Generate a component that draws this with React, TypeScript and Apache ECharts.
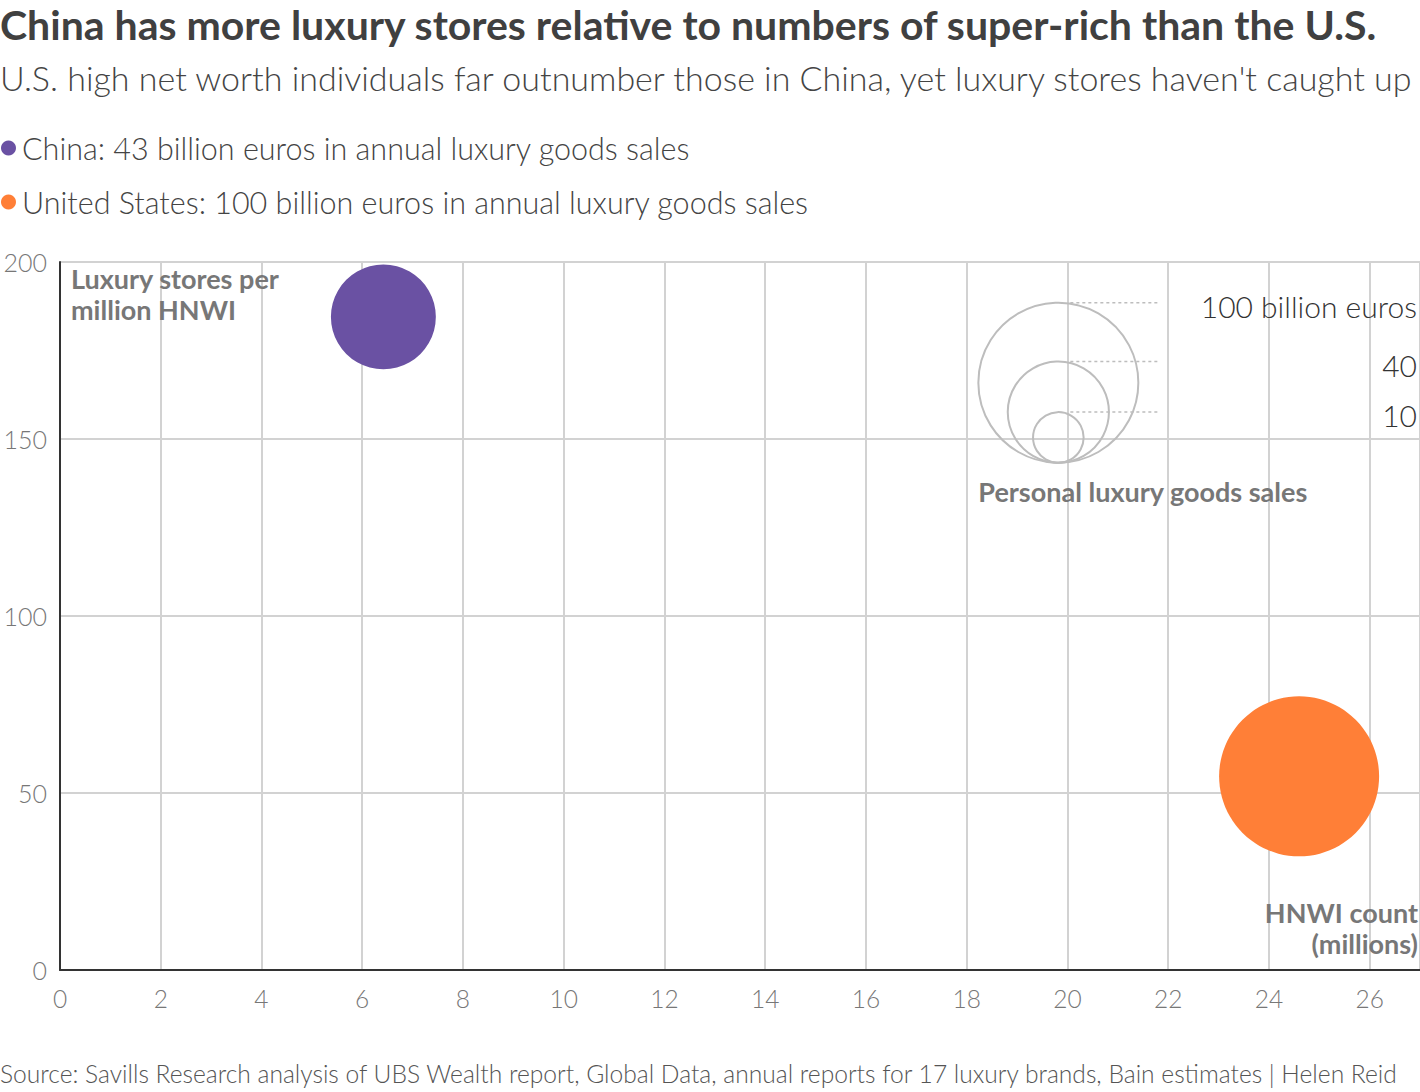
import React, { useEffect, useRef } from "react";
import * as echarts from "echarts";

// Bubble data: HNWI count (millions), luxury stores per million HNWI, annual sales (bn euros)
const countries = ["China", "United States"];
const hnwiMillions = [6.42, 24.6];
const storesPerMillionHnwi = [184.5, 54.7];
const salesBillionEuros = [43, 100];
const countryColors = ["#6a51a3", "#ff7f37"];

// Size key
const sizeKeyValues = [100, 40, 10];
const sizeKeyLabels = ["100 billion euros", "40", "10"];
const sizeKeyAnchor = [19.82, 143.3]; // bottom point of the nested circles, in data units

const xMin = 0;
const xMax = 27;
const xStep = 2;
const yMin = 0;
const yMax = 200;
const yStep = 50;

const FONT = "Lato, 'Noto Sans', sans-serif";
const bubbleDiameter = (v: number) => 16 * Math.sqrt(v);

export default function App() {
  const ref = useRef<HTMLDivElement>(null);

  useEffect(() => {
    if (!ref.current) return;
    const chart = echarts.init(ref.current, null, { renderer: "svg" });

    const countrySeries = countries.map((c, i) => ({
      type: "scatter",
      name: `${c}: ${salesBillionEuros[i]} billion euros in annual luxury goods sales`,
      data: [[hnwiMillions[i], storesPerMillionHnwi[i], salesBillionEuros[i]]],
      symbolSize: (d: number[]) => bubbleDiameter(d[2]),
      itemStyle: { color: countryColors[i], opacity: 1 },
      z: 5,
    }));

    const sizeKeySeries = {
      type: "scatter",
      name: "sizeKey",
      silent: true,
      data: sizeKeyValues.map((v) => ({
        value: [sizeKeyAnchor[0], sizeKeyAnchor[1], v],
        symbolOffset: [0, -bubbleDiameter(v) / 2],
      })),
      symbolSize: (d: number[]) => bubbleDiameter(d[2]),
      itemStyle: {
        color: "rgba(255,255,255,0)",
        borderColor: "#bdbdbd",
        borderWidth: 2,
        opacity: 1,
      },
      z: 4,
    };

    const option: any = {
      animation: false,
      backgroundColor: "#ffffff",
      textStyle: { fontFamily: FONT },
      legend: {
        data: countrySeries.map((s) => s.name),
        orient: "vertical",
        left: 1,
        top: 132,
        padding: 0,
        itemGap: 22,
        itemWidth: 15,
        itemHeight: 15,
        icon: "circle",
        selectedMode: false,
        textStyle: {
          fontFamily: FONT,
          fontSize: 30.5,
          fontWeight: 300,
          color: "#444",
          lineHeight: 32,
          padding: [0, 0, 0, 1],
        },
      },
      grid: { left: 60, right: 0, top: 262, bottom: 122, containLabel: false },
      xAxis: {
        type: "value",
        min: xMin,
        max: xMax,
        interval: xStep,
        axisLine: { show: true, lineStyle: { color: "#333", width: 2 } },
        axisTick: { show: false },
        splitLine: { show: true, lineStyle: { color: "#d2d2d2", width: 2 } },
        axisLabel: {
          showMaxLabel: false,
          margin: 16,
          fontSize: 24.5,
          fontWeight: 300,
          fontFamily: FONT,
          color: "#777",
        },
      },
      yAxis: {
        type: "value",
        min: yMin,
        max: yMax,
        interval: yStep,
        axisLine: { show: true, lineStyle: { color: "#333", width: 2 } },
        axisTick: { show: false },
        splitLine: { show: true, lineStyle: { color: "#d2d2d2", width: 2 } },
        axisLabel: {
          margin: 13,
          fontSize: 25,
          fontWeight: 300,
          fontFamily: FONT,
          color: "#777",
        },
      },
      series: [sizeKeySeries, ...countrySeries],
    };

    chart.setOption(option);

    const noteStyle = {
      fontFamily: FONT,
      fontSize: 27,
      fontWeight: "bold",
      fill: "#777",
      lineHeight: 31,
    };

    // Size key decorations, positioned from the grid's own coordinate system
    const [ax, ay] = chart.convertToPixel({ gridIndex: 0 }, sizeKeyAnchor) as number[];
    const keyGraphics: any[] = [];
    sizeKeyValues.forEach((v, i) => {
      const topY = ay - bubbleDiameter(v);
      keyGraphics.push({
        type: "line",
        shape: { x1: ax + 12, y1: topY, x2: ax + 102, y2: topY },
        style: { stroke: "#bdbdbd", lineWidth: 1.5, lineDash: [3, 3] },
        z: 6,
        silent: true,
      });
      keyGraphics.push({
        type: "text",
        x: 1417,
        y: topY + 3,
        style: {
          text: sizeKeyLabels[i],
          fontFamily: FONT,
          fontSize: 30,
          fontWeight: 300,
          fill: "#333",
          align: "right",
          verticalAlign: "middle",
        },
        z: 6,
      });
    });
    keyGraphics.push({
      type: "text",
      x: ax - 80,
      y: ay + 29,
      style: {
        ...noteStyle,
        text: "Personal luxury goods sales",
        align: "left",
        verticalAlign: "middle",
      },
      z: 6,
    });

    chart.setOption({
      graphic: [
        {
          type: "text",
          x: 0,
          y: 4,
          style: {
            text: "China has more luxury stores relative to numbers of super-rich than the U.S.",
            fontFamily: FONT,
            fontSize: 41,
            fontWeight: "bold",
            fill: "#404040",
          },
        },
        {
          type: "text",
          x: 0,
          y: 60,
          style: {
            text: "U.S. high net worth individuals far outnumber those in China, yet luxury stores haven't caught up",
            fontFamily: FONT,
            fontSize: 34,
            fontWeight: 300,
            fill: "#444",
          },
        },
        {
          type: "text",
          x: 71,
          y: 263,
          style: { ...noteStyle, text: "Luxury stores per\nmillion HNWI" },
          z: 6,
        },
        {
          type: "text",
          x: 1418,
          y: 897,
          style: { ...noteStyle, text: "HNWI count\n(millions)", align: "right" },
          z: 6,
        },
        {
          type: "text",
          x: 0,
          y: 1061,
          style: {
            text: "Source: Savills Research analysis of UBS Wealth report, Global Data, annual reports for 17 luxury brands, Bain estimates | Helen Reid",
            fontFamily: FONT,
            fontSize: 24.6,
            fontWeight: 300,
            fill: "#555",
          },
        },
        ...keyGraphics,
      ],
    });

    return () => chart.dispose();
  }, []);

  return (
    <div
      ref={ref}
      style={{ position: "absolute", left: 0, top: 0, width: 1420, height: 1092 }}
    />
  );
}
